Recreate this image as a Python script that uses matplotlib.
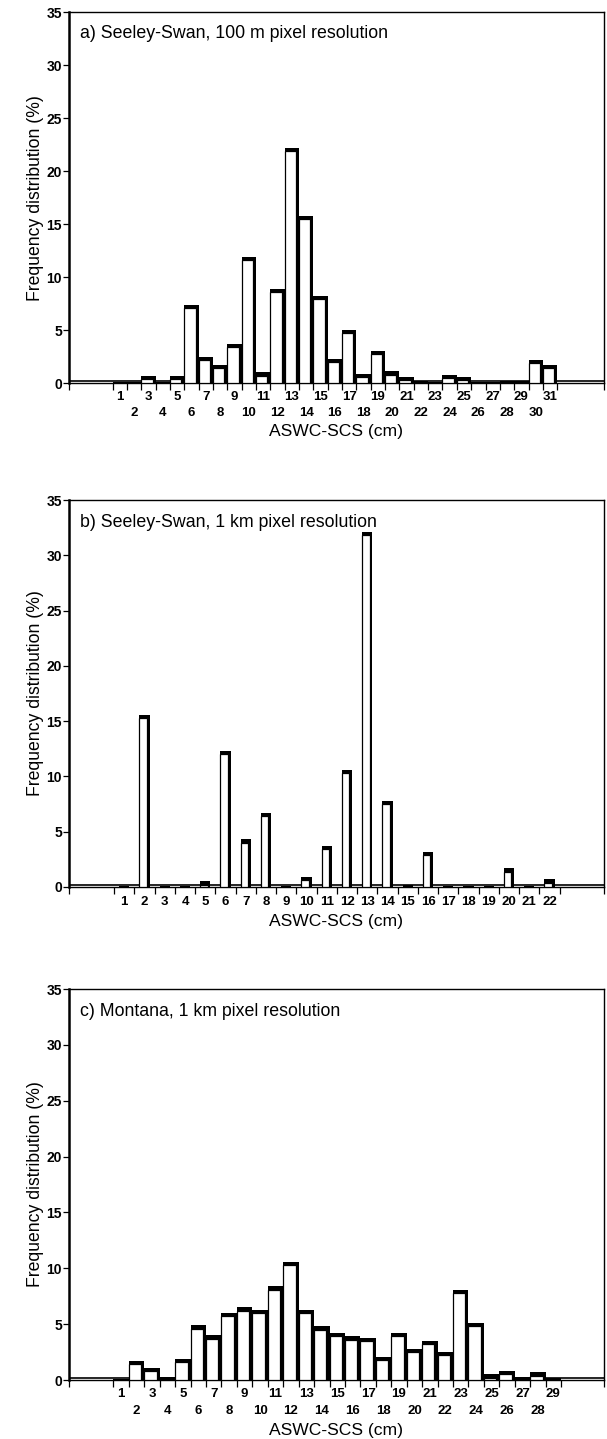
import matplotlib
matplotlib.use("Agg")
import matplotlib.pyplot as plt
import numpy as np

plt.rcParams.update({"font.family": ["Liberation Sans", "DejaVu Sans"]})

# frequency distribution (%) per ASWC-SCS class (cm)
vals_a = [0.1, 0.1, 0.7, 0.1, 0.7, 7.4, 2.5, 1.7, 3.7, 11.9, 1.0, 8.9, 22.2, 15.8, 8.2, 2.3,
          5.0, 0.9, 3.0, 1.1, 0.6, 0.2, 0.1, 0.75, 0.6, 0.1, 0.1, 0.15, 0.15, 2.2, 1.7]
vals_b = [0.05, 15.6, 0.05, 0.05, 0.5, 12.3, 4.3, 6.7, 0.1, 0.9, 3.7, 10.6, 32.1, 7.8, 0.15,
          3.2, 0.05, 0.05, 0.05, 1.7, 0.1, 0.7]
vals_c = [0.1, 1.7, 1.1, 0.3, 1.9, 4.9, 4.0, 6.0, 6.5, 6.3, 8.4, 10.6, 6.3, 4.8, 4.2, 3.9,
          3.8, 2.1, 4.2, 2.8, 3.5, 2.5, 8.1, 5.1, 0.5, 0.8, 0.3, 0.7, 0.2]

titles = ["a) Seeley-Swan, 100 m pixel resolution",
          "b) Seeley-Swan, 1 km pixel resolution",
          "c) Montana, 1 km pixel resolution"]

# (bottom, height) in figure fraction, xlim, bar width, shadow width, staggered labels
panels = [
    (vals_a, 0.7338, 0.2578, (-2.55, 34.75), 1.0, 0.22, True),
    (vals_b, 0.3836, 0.2689, (-1.73, 24.68), 0.5, 0.14, False),
    (vals_c, 0.0410, 0.2717, (-2.38, 32.27), 1.0, 0.20, True),
]

fig = plt.figure(figsize=(6.07, 14.39), dpi=100)

for (vals, bot, hgt, xlim, w, sh, stagger), title in zip(panels, titles):
    ax = fig.add_axes([0.1137, bot, 0.881, hgt])
    n = len(vals)
    x = np.arange(1, n + 1)
    v = np.array(vals)
    # shadowed bars: black body, white face inset from right and top
    ax.bar(x, v, width=w, color="black", linewidth=0, zorder=2)
    ax.bar(x - sh / 2, np.maximum(v - 0.3, 0), width=w - sh, color="white",
           edgecolor="black", linewidth=0.9, zorder=3)
    ax.axhline(0.15, color="black", lw=1.2, zorder=1)

    ax.set_xlim(*xlim)
    ax.set_ylim(0, 35)
    edges = np.arange(0.5, n + 1, 1.0)
    ax.set_xticks(list(edges) + [xlim[0], xlim[1]])
    ax.set_xticklabels([])
    ax.tick_params(axis="x", direction="out", length=5, width=0.9)
    ax.set_yticks(np.arange(0, 36, 5))
    ax.set_yticklabels([str(t) for t in range(0, 36, 5)], fontsize=10, fontweight="bold")
    ax.tick_params(axis="y", direction="out", length=4, width=0.9, pad=1)
    for s in ax.spines.values():
        s.set_linewidth(1.0)
    ax.spines["left"].set_linewidth(1.8)

    trans = ax.get_xaxis_transform()
    for k in x:
        if stagger:
            dy = -0.037 if k % 2 else -0.08
        else:
            dy = -0.038
        ax.text(k, dy, str(k), transform=trans, ha="center", va="center",
                fontsize=9.5, fontweight="bold")

    xl_y = -0.13 if stagger else -0.088
    ax.text(0.5, xl_y, "ASWC-SCS (cm)", transform=ax.transAxes, ha="center",
            va="center", fontsize=12.6)
    ax.set_ylabel("Frequency distribution (%)", fontsize=12.7, labelpad=2)
    ax.text(0.021, 0.943, title, transform=ax.transAxes, ha="left", va="center",
            fontsize=12.8)

fig.savefig("out.png", dpi=100, facecolor="white")
